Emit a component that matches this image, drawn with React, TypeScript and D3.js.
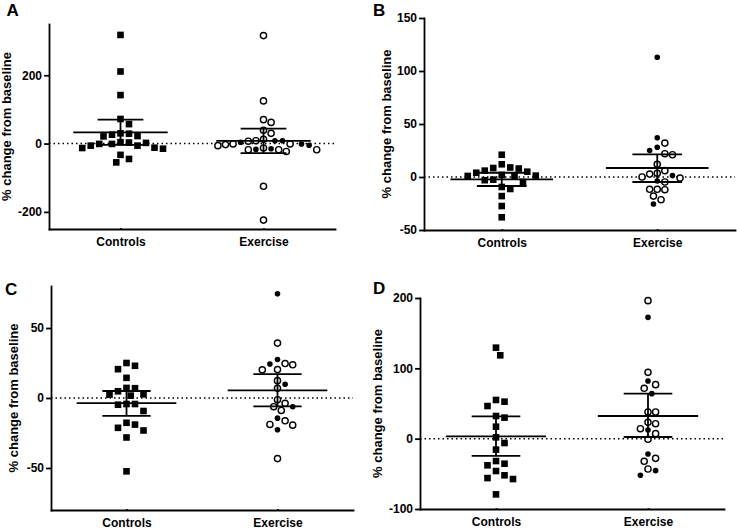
import React, { useRef, useEffect } from 'react';
import { select, scaleLinear, scalePoint, axisLeft, axisBottom } from 'd3';

const groups = ['Controls', 'Exercise'];

// A
const aControls = [318, 211, 142, 72, 57, 30, 26, 21, 22, 29, 4, 2, -1, -6, -12, -15, -13, -6, -1, 3, -33, -45, -55];
const aExerciseOpen = [316, 125, 70, 62, 39, 30, 7, 8.5, 12.6, -3, -6, -18, -18, -23, -18, -13, -1, -1, -125, -224];
const aExerciseFilled = [3.8, -1, 8.5, 8.5, -17, -15, -5];
const aStats = [[33, -4, 70], [8, -28, 44]]; // mean, lower, upper
const aTicks = [-200, 0, 200];

// B
const bControls = [21, 12, 8.5, 8, 9, 6, 4, 1.3, 1, 1, 2, 5, -3, -2.5, -4.7, -9.4, -11.3, -18, -27.4, -38];
const bExerciseOpen = [22, 21, 32, 12, 3.5, -4.7, 2.8, 6, -1, 0, -11.6, -12, -11.6, -18, -21.4];
const bExerciseFilled = [113, 37, 28, 25, 1.3, -3.8, -25.5];
const bStats = [[-2.2, -8.5, 4], [8.5, -4.7, 21.4]];
const bTicks = [-50, 0, 50, 100, 150];

// C
const cControls = [23, 20.6, 25, 14.4, 7, 2.6, 1.7, 2.4, 4.8, 7.2, -4.3, -4.8, -4.3, -9.3, -19, -17.7, -21.3, -23.2, -28.2, -52.4];
const cExerciseOpen = [39.2, 23.7, 24.6, 20.3, 20.1, 12.4, 6.9, -1.2, -6.2, -8.9, -3.8, -16.3, -19.4, -18.9, -43.3];
const cExerciseFilled = [74.4, 27.5, 24.2, 9.8, -6.2, -14.4, -22.7];
const cStats = [[-3.6, -12.7, 5], [5.5, -6, 17]];
const cTicks = [-50, 0, 50];

// D
const dControls = [129.4, 118.5, 52.6, 55, 46.4, 29.9, 32.2, 17, 1.9, -6.2, -15.6, -31.8, -37.9, -35.6, -46, -56, -57.4, -52.1, -79.2];
const dExerciseOpen = [196.2, 94.3, 76.8, 71.6, 37.9, 37.9, 21.3, 23.2, 14.2, 7.1, -0.9, -28, -32.2, -43.1];
const dExerciseFilled = [172.5, 82, 64, 12.3, -21.8, -45.5, -52.1];
const dStats = [[3.3, -24.6, 31.8], [32.2, 2.4, 64]];
const dTicks = [-100, 0, 100, 200];

const FONT = '"Liberation Sans", Arial, Helvetica, sans-serif';

// simple dodge so markers in a column don't overlap
function swarm(points, y, cx, d) {
  const placed = [];
  const step = d / 2;
  [...points]
    .sort((p, q) => q.v - p.v)
    .forEach(p => {
      const py = y(p.v);
      for (let i = 0; i < 400; i++) {
        const off = i === 0 ? 0 : (i % 2 ? 1 : -1) * Math.ceil(i / 2) * step;
        const px = cx + off;
        if (placed.every(o => (o.x - px) ** 2 + (o.y - py) ** 2 >= d * d)) {
          placed.push({ ...p, x: px, y: py });
          break;
        }
      }
    });
  return placed;
}

const Panel = ({ letter, box, domain, ticks, controls, exOpen, exFilled, stats, titleX, letterPos }) => {
  const ref = useRef(null);

  useEffect(() => {
    const g = select(ref.current);
    g.selectAll('*').remove();
    const { left, right, top, bottom } = box;

    const y = scaleLinear().domain(domain).range([bottom, top]);
    const x = scalePoint().domain(groups).range([left, right]).padding(0.5);
    const step = x.step();

    g.append('line')
      .attr('x1', left)
      .attr('x2', right)
      .attr('y1', y(0))
      .attr('y2', y(0))
      .attr('stroke', '#000')
      .attr('stroke-width', 1.5)
      .attr('stroke-dasharray', '1.5 3');

    const yAxis = axisLeft(y)
      .tickValues(ticks)
      .tickFormat(v => String(v))
      .tickSize(4)
      .tickSizeOuter(0)
      .tickPadding(3);
    const yg = g.append('g').attr('transform', `translate(${left},0)`).call(yAxis);
    const xAxis = axisBottom(x).tickSize(0).tickSizeOuter(0).tickPadding(8);
    const xg = g.append('g').attr('transform', `translate(0,${bottom})`).call(xAxis);

    [yg, xg].forEach(a => {
      a.attr('font-size', 12).attr('font-family', FONT).attr('font-weight', 'bold');
      a.selectAll('text').attr('fill', '#000');
      a.selectAll('path, line').attr('stroke', '#000').attr('stroke-width', 1.8).attr('stroke-linecap', 'square');
    });

    const ctrlPts = swarm(controls.map(v => ({ v, kind: 'square' })), y, x('Controls'), 8.5);
    const exPts = swarm(
      [...exOpen.map(v => ({ v, kind: 'open' })), ...exFilled.map(v => ({ v, kind: 'filled' }))],
      y,
      x('Exercise'),
      7.6
    );

    g.selectAll('rect.pt')
      .data(ctrlPts)
      .join('rect')
      .attr('class', 'pt')
      .attr('x', p => p.x - 3.3)
      .attr('y', p => p.y - 3.3)
      .attr('width', 6.6)
      .attr('height', 6.6)
      .attr('fill', '#000');

    g.selectAll('circle.pt')
      .data(exPts)
      .join('circle')
      .attr('class', 'pt')
      .attr('cx', p => p.x)
      .attr('cy', p => p.y)
      .attr('r', p => (p.kind === 'open' ? 3.1 : 2.8))
      .attr('fill', p => (p.kind === 'open' ? '#fff' : '#000'))
      .attr('stroke', p => (p.kind === 'open' ? '#000' : 'none'))
      .attr('stroke-width', 1.4);

    groups.forEach((name, i) => {
      const [m, lo, hi] = stats[i];
      const cx = x(name);
      const seg = (x1, x2, y1, y2) =>
        g.append('line')
          .attr('x1', x1).attr('x2', x2).attr('y1', y1).attr('y2', y2)
          .attr('stroke', '#000').attr('stroke-width', 1.8);
      seg(cx - 0.33 * step, cx + 0.33 * step, y(m), y(m));
      seg(cx - 0.16 * step, cx + 0.16 * step, y(lo), y(lo));
      seg(cx - 0.16 * step, cx + 0.16 * step, y(hi), y(hi));
      seg(cx, cx, y(lo), y(hi));
    });

    g.append('text')
      .attr('transform', `translate(${titleX},${(top + bottom) / 2}) rotate(-90)`)
      .attr('text-anchor', 'middle')
      .attr('font-family', FONT)
      .attr('font-weight', 'bold')
      .attr('font-size', 13)
      .text('% change from baseline');

    g.append('text')
      .attr('x', letterPos[0])
      .attr('y', letterPos[1])
      .attr('font-family', FONT)
      .attr('font-weight', 'bold')
      .attr('font-size', 17)
      .text(letter);
  }, [letter, box, domain, ticks, controls, exOpen, exFilled, stats, titleX, letterPos]);

  return <g ref={ref} />;
};

const App = () => (
  <svg
    width={737}
    height={530}
    style={{ position: 'absolute', left: 0, top: 0, background: '#fff' }}
  >
    <Panel
      letter="A"
      box={{ left: 49, right: 335, top: 24, bottom: 229 }}
      domain={[-250, 350]}
      ticks={aTicks}
      controls={aControls}
      exOpen={aExerciseOpen}
      exFilled={aExerciseFilled}
      stats={aStats}
      titleX={11}
      letterPos={[6.5, 16]}
    />
    <Panel
      letter="B"
      box={{ left: 424, right: 735, top: 18, bottom: 230 }}
      domain={[-50, 150]}
      ticks={bTicks}
      controls={bControls}
      exOpen={bExerciseOpen}
      exFilled={bExerciseFilled}
      stats={bStats}
      titleX={390.5}
      letterPos={[373, 16]}
    />
    <Panel
      letter="C"
      box={{ left: 51, right: 353, top: 286, bottom: 510 }}
      domain={[-80, 80]}
      ticks={cTicks}
      controls={cControls}
      exOpen={cExerciseOpen}
      exFilled={cExerciseFilled}
      stats={cStats}
      titleX={17.5}
      letterPos={[5, 295]}
    />
    <Panel
      letter="D"
      box={{ left: 420, right: 724, top: 298, bottom: 509 }}
      domain={[-100, 200]}
      ticks={dTicks}
      controls={dControls}
      exOpen={dExerciseOpen}
      exFilled={dExerciseFilled}
      stats={dStats}
      titleX={382}
      letterPos={[373, 294]}
    />
  </svg>
);

export default App;
